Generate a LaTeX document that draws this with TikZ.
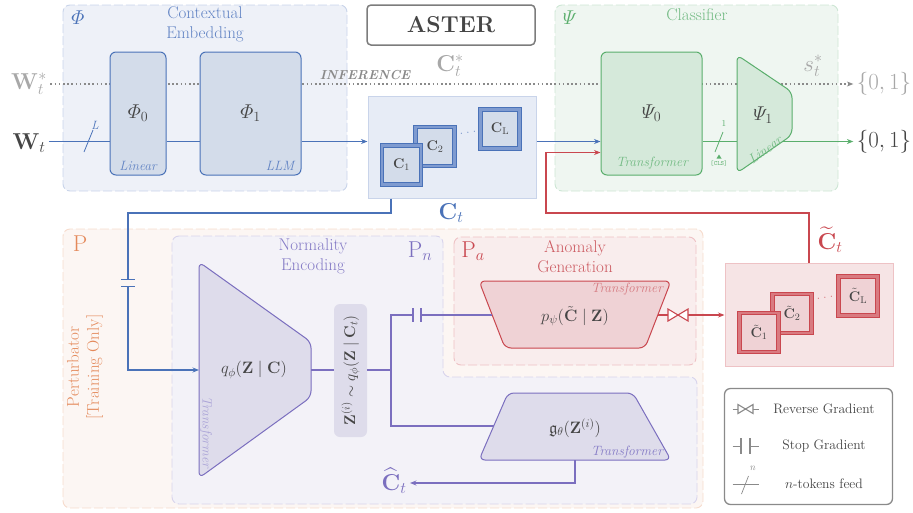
\documentclass[tikz,border=0pt]{standalone}
\usepackage{fix-cm}
\usepackage{amsmath,amssymb}
\usetikzlibrary{arrows.meta,calc}
\pgfdeclarelayer{bg}
\pgfdeclarelayer{wires}
\pgfsetlayers{bg,wires,main}
\newcommand\fsz[2]{\fontsize{#1}{#2}\selectfont}
\definecolor{blu}{HTML}{4A72B8}
\definecolor{bluTxt}{HTML}{6284C4}
\definecolor{bluFill}{HTML}{D3DCEA}
\definecolor{bluMid}{HTML}{7F9BD0}
\definecolor{bluBg}{HTML}{EEF1F8}
\definecolor{bluBd}{HTML}{C9D4EA}
\definecolor{cFill}{HTML}{E7ECF6}
\definecolor{grn}{HTML}{5AAE6C}
\definecolor{grnTxt}{HTML}{72BA83}
\definecolor{grnFill}{HTML}{D5E9DA}
\definecolor{grnBg}{HTML}{EFF6F1}
\definecolor{grnBd}{HTML}{CDE6D4}
\definecolor{rd}{HTML}{C9474F}
\definecolor{rdTxt}{HTML}{CC5A61}
\definecolor{rdFill}{HTML}{EFD2D5}
\definecolor{rdMid}{HTML}{D97A80}
\definecolor{rdBg}{HTML}{F9EDED}
\definecolor{rdBd}{HTML}{EEC2C5}
\definecolor{rdBox}{HTML}{F6E4E5}
\definecolor{pur}{HTML}{7B6FBF}
\definecolor{purTxt}{HTML}{857BC6}
\definecolor{purFill}{HTML}{DEDCEB}
\definecolor{purBg}{HTML}{F3F2F8}
\definecolor{purBd}{HTML}{D8D4EC}
\definecolor{org}{HTML}{E4895A}
\definecolor{orgBg}{HTML}{FCF6F3}
\definecolor{orgBd}{HTML}{F6DCCD}
\definecolor{gry}{HTML}{8A8A8A}
\definecolor{lgry}{HTML}{A8A8A8}
\definecolor{dk}{HTML}{454545}
\begin{document}
\begin{tikzpicture}[x=1pt,y=-1pt,
  >={Stealth[length=6.5pt,width=5pt]},
  cont/.style={rounded corners=7pt, dash pattern=on 9pt off 3pt, line width=0.9pt},
  blkb/.style={draw=blu, fill=bluFill, rounded corners=6pt, line width=1pt, inner sep=0pt, text=dk, font=\fsz{20}{24}},
  blkg/.style={draw=grn, fill=grnFill, rounded corners=6pt, line width=1pt, inner sep=0pt, text=dk, font=\fsz{20}{24}},
  hdr/.style={font=\fsz{17}{20}, align=center},
  subl/.style={font=\fsz{13.5}{16}\itshape},
  wire/.style={line width=1.7pt},
  mth/.style={font=\fsz{16.5}{20}, text=dk},
  big/.style={font=\fsz{23}{27}},
  csq/.style={draw=#1, line width=0.9pt, double=#1Mid, double distance=2.4pt, fill=#1Fill, minimum size=39pt, inner sep=0pt, text=dk, font=\fsz{14}{16}},
  stoph/.pic={\draw[line width=1.6pt] (-4,-7) -- (-4,7) (4,-7) -- (4,7);},
  stopv/.pic={\draw[line width=1.6pt] (-7,-3.5) -- (7,-3.5) (-7,3.5) -- (7,3.5);},
  revg/.pic={\draw[line width=1.1pt, fill=white, line join=miter] (-10,-6) -- (-10,6) -- (0,0) -- cycle (10,-6) -- (10,6) -- (0,0) -- cycle;},
]
\useasboundingbox (0,0) rectangle (913,512);

% ---------- containers ----------
\begin{pgfonlayer}{bg}
\path[cont, draw=bluBd, fill=bluBg] (63,5) rectangle (347,191);
\path[cont, draw=grnBd, fill=grnBg] (555,5) rectangle (838,191);
\path[cont, draw=orgBd, fill=orgBg] (63,229) rectangle (703,508);
\path[cont, draw=purBd, fill=purBg] (172,236) -- (443,236) -- (443,377) -- (697,377) -- (697,504) -- (172,504) -- cycle;
\path[cont, draw=rdBd, fill=rdBg] (454,237) rectangle (696,365);
\end{pgfonlayer}

% ---------- helper coordinates ----------
\coordinate (wy) at (0,141.5);
\coordinate (dy) at (0,84);
\coordinate (rin) at (0,152.5);
\coordinate (ry) at (0,315);
\coordinate (cy) at (0,483);

% ---------- title ----------
\node[draw=gry!90!black, rounded corners=4pt, line width=1.5pt, minimum width=168, minimum height=40, font=\fsz{23}{27}\bfseries, text=dk] (aster) at (451,25) {ASTER};

% ---------- Phi block ----------
\node[font=\fsz{20}{24}, text=blu] (philbl) at (78,18) {$\varPhi$};
\node[hdr, text=bluTxt] (phihdr) at (205,24.5) {Contextual\\Embedding};
\node[blkb, minimum width=56, minimum height=123] (phi0) at (138,113.5) {$\varPhi_0$};
\node[subl, text=bluTxt] (phi0s) at (138,166) {Linear};
\node[blkb, minimum width=101, minimum height=123] (phi1) at (250.5,113.5) {$\varPhi_1$};
\node[subl, text=bluTxt] (phi1s) at (280,166) {LLM};
\node[big, text=dk] (wt) at (29,143) {$\mathbf{W}_t$};
\node[big, text=lgry] (wst) at (29,84) {$\mathbf{W}^*_t$};
\node[font=\fsz{12}{14}\itshape, text=blu] (lL) at (95,125) {L};

% ---------- C_t box ----------
\node[draw=bluBd, fill=cFill, line width=1pt, minimum width=168, minimum height=102, inner sep=0pt] (cbox) at (452,147) {};
\node[csq=blu] (c2) at (435,146.5) {$\mathbf C_{\mathrm{2}}$};
\node[csq=blu] (c1) at (401.5,165) {$\mathbf C_{\mathrm{1}}$};
\node[csq=blu] (cL) at (500,129) {$\mathbf C_{\mathrm{L}}$};
\node[text=blu, rotate=12] (cdots) at (468,133) {$\cdot\,\cdot\,\cdot$};
\node[big, text=lgry] (cst) at (450,66) {$\mathbf C^*_t$};
\node[font=\fsz{13}{15}\bfseries\itshape, text=gry] (inf) at (365,75) {INFERENCE};
\node[big, text=blu] (ctl) at (451,213) {$\mathbf C_t$};

% ---------- Psi block ----------
\node[font=\fsz{20}{24}, text=grn] (psilbl) at (570,18) {$\varPsi$};
\node[hdr, text=grnTxt] (psihdr) at (697,15) {Classifier};
\node[blkg, minimum width=101, minimum height=123] (psi0) at (651.5,113.5) {$\varPsi_0$};
\node[subl, text=grnTxt] (psi0s) at (652,163) {Transformer};
\path[draw=grn, fill=grnFill, line width=1pt, rounded corners=6pt] (737,55) -- (792,92) -- (792,135) -- (737,173) -- cycle;
\node[font=\fsz{20}{24}, text=dk] (psi1) at (763,115) {$\varPsi_1$};
\node[subl, text=grnTxt, rotate=36] (psi1s) at (765,150) {Linear};
\coordinate (psi1in) at (737,141.5);
\coordinate (psi1out) at (782,141.5);
\node[big, text=lgry] (sst) at (813,66) {$s^*_t$};
\node[big, text=lgry] (outs) at (884,84) {$\{0,1\}$};
\node[big, text=dk] (out) at (884,141.5) {$\{0,1\}$};
\node[font=\fsz{9}{10}, text=grn] (one) at (724,123) {1};
\node[font=\fsz{6.5}{8}\ttfamily, text=grn] (cls) at (719,164) {[CLS]};

% ---------- Perturbator ----------
\node[big, text=org] (plbl) at (80,244) {$\mathrm{P}$};
\node[rotate=90, align=center, font=\fsz{17}{20}, text=org] (ptxt) at (85,367) {Perturbator\\{[Training Only]}};
\node[big, text=pur] (pnlbl) at (420,251) {$\mathrm{P}_n$};
\node[hdr, text=purTxt] (pnhdr) at (313,256.5) {Normality\\Encoding};
\node[big, text=rd] (palbl) at (473,251) {$\mathrm{P}_a$};
\node[hdr, text=rdTxt] (pahdr) at (575,256.5) {Anomaly\\Generation};

% q_phi
\path[draw=pur, fill=purFill, line width=1pt, rounded corners=6pt] (199,262) -- (311,342) -- (311,397) -- (199,478) -- cycle;
\node[mth] (qlbl) at (254,370) {$q_\phi(\mathbf Z\mid\mathbf C)$};
\node[subl, text=purTxt!70, rotate=-90] (qs) at (206,432) {Transformer};
\coordinate (qin) at (199,370);
\coordinate (qout) at (311,370);

% pill
\node[fill=purFill, rounded corners=6pt, minimum width=33, minimum height=133, inner sep=0pt] (pill) at (350.5,370.5) {};
\node[rotate=90, font=\fsz{15.5}{18}, text=dk] (pilltxt) at (pill) {$\mathbf Z^{(i)}\sim q_\phi(\mathbf Z\mid\mathbf C_t)$};

% p_psi
\path[draw=rd, fill=rdFill, line width=1pt, rounded corners=6pt] (479,281) -- (671,281) -- (645,348) -- (505,348) -- cycle;
\node[mth] (plab) at (575,316) {$p_\psi(\tilde{\mathbf C}\mid\mathbf Z)$};
\node[subl, text=rdTxt!80] (ps) at (627,289) {Transformer};
\coordinate (pin) at (492,315);
\coordinate (pout) at (658,315);

% g_theta
\path[draw=pur, fill=purFill, line width=1pt, rounded corners=6pt] (508,393) -- (633,393) -- (671,460) -- (479,460) -- cycle;
\node[mth] (glab) at (575,428) {$\mathfrak g_\theta(\mathbf Z^{(i)})$};
\node[subl, text=purTxt] (gs) at (627,452) {Transformer};
\coordinate (gin) at (494,426);
\coordinate (gout) at (575,460);
\node[big, text=pur] (chat) at (394,481) {$\widehat{\mathbf C}_t$};

% C-tilde box
\node[draw=rdBd, fill=rdBox, line width=1pt, minimum width=168, minimum height=103, inner sep=0pt] (ctbox) at (809,314.5) {};
\node[csq=rd] (t2) at (792,313.5) {$\tilde{\mathbf C}_{\mathrm{2}}$};
\node[csq=rd] (t1) at (759,332.5) {$\tilde{\mathbf C}_{\mathrm{1}}$};
\node[csq=rd] (tL) at (858,296) {$\tilde{\mathbf C}_{\mathrm{L}}$};
\node[text=rd, rotate=12] (tdots) at (825,298) {$\cdot\,\cdot\,\cdot$};
\node[big, text=rd] (ctt) at (830,240) {$\widetilde{\mathbf C}_t$};

% ---------- wires ----------
\begin{pgfonlayer}{wires}
\draw[gry, line width=1.4pt, dash pattern=on 1.6pt off 2.6pt, ->] (wst.east |- dy) -- (outs.west |- dy);
\end{pgfonlayer}

\draw[wire, blu] (wt.east |- wy) -- (phi0.west |- wy);
\draw[blu, line width=0.8pt] (84,152) -- (93,130);
\draw[wire, blu] (phi0.east |- wy) -- (phi1.west |- wy);
\draw[wire, blu, ->] (phi1.east |- wy) -- (cbox.west |- wy);
\draw[wire, blu, ->] (cbox.east |- wy) -- (psi0.west |- wy);

\draw[wire, grn] (psi0.east |- wy) -- (psi1in);
\draw[grn, line width=0.8pt] (715,152) -- (723,132);
\fill[grn] (716.5,158.5) -- (721.5,158.5) -- (719,154.5) -- cycle;
\draw[wire, grn, ->] (psi1out) -- (out.west |- wy);

\coordinate (bturn) at (128,213);
\coordinate (cdx) at (391,0);
\coordinate (sg1) at (128,283);
\draw[wire, blu] (cbox.south -| cdx) |- (bturn) -- ($(sg1)+(0,-3.5)$);
\draw[wire, blu, ->] ($(sg1)+(0,3.5)$) |- (qin);
\pic[blu] at (sg1) {stopv};

\coordinate (rturn) at (546,213);
\draw[wire, rd, ->] (ctbox.north) |- (rturn) |- (psi0.west |- rin);

\coordinate (br) at (391,370);
\coordinate (sg2) at (417,315);
\draw[wire, pur] (qout) -- (pill.west |- qout);
\draw[wire, pur] (pill.east |- qout) -- (br);
\draw[wire, pur] (br) |- ($(sg2)+(-4,0)$);
\draw[wire, pur] ($(sg2)+(4,0)$) -- (pin);
\pic[pur] at (sg2) {stoph};
\draw[wire, pur] (br) |- (gin);
\draw[wire, pur, ->] (gout) |- (chat.east |- cy);

\coordinate (rg) at (678,315);
\draw[wire, rd] (pout) -- ($(rg)+(-10,0)$);
\draw[wire, rd, ->] ($(rg)+(10,0)$) -- (ctbox.west |- ry);
\pic[rd] at (rg) {revg};

% ---------- legend ----------
\node[draw=gry, line width=1.3pt, rounded corners=6pt, fill=white, minimum width=168, minimum height=116] (leg) at (808.5,446.5) {};
\coordinate (l1) at (745.5,409);
\coordinate (l2) at (745.5,446);
\coordinate (l3) at (745.5,484);
\draw[gry, line width=1pt] ($(l1)+(-13,0)$) -- ($(l1)+(-7,0)$) ($(l1)+(7,0)$) -- ($(l1)+(13,0)$);
\pic[gry, scale=0.75] at (l1) {revg};
\draw[gry, line width=1pt] ($(l2)+(-13,0)$) -- ($(l2)+(-4,0)$) ($(l2)+(4,0)$) -- ($(l2)+(13,0)$);
\pic[gry, scale=1.1] at (l2) {stoph};
\draw[gry, line width=1pt] ($(l3)+(-13,0)$) -- ($(l3)+(13,0)$);
\draw[gry, line width=0.7pt] ($(l3)+(-4,10)$) -- ($(l3)+(3,-8)$);
\node[font=\fsz{10}{11}\itshape, text=gry] (ln) at ($(l3)+(7,-16)$) {n};
\node[font=\fsz{13.7}{16}, text=dk] (t1l) at (824,409) {Reverse Gradient};
\node[font=\fsz{13.7}{16}, text=dk] (t2l) at (824,446) {Stop Gradient};
\node[font=\fsz{13.7}{16}, text=dk] (t3l) at (824,484) {$n$-tokens feed};
\end{tikzpicture}
\end{document}
